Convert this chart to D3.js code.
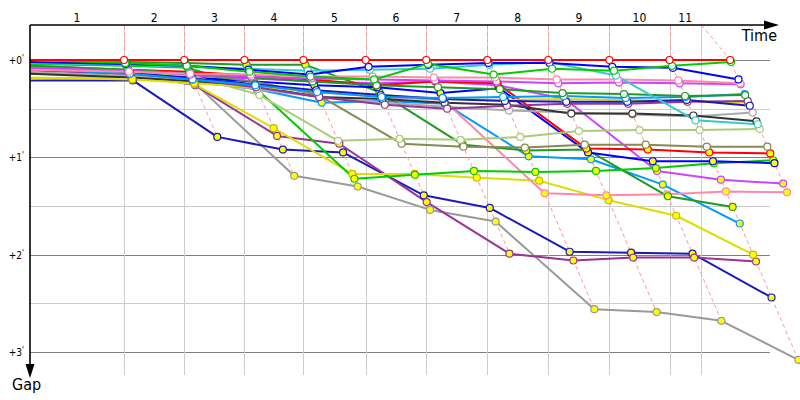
<!DOCTYPE html>
<html>
<head>
<meta charset="utf-8">
<script src="https://cdn.jsdelivr.net/npm/d3@7"></script>
<style>
  body { margin: 0; background: #fff; }
  svg { display: block; font-family: "DejaVu Sans Condensed", "DejaVu Sans", sans-serif; }
</style>
</head>
<body>
<svg id="chart" width="800" height="400"></svg>
<script>
// leader time (minutes) at the start and at the end of each lap
const lapTimes = [0, 2.25, 3.69, 5.13, 6.54, 8.03, 9.48, 10.94, 12.40, 13.86, 15.30, 16.75];
// vertical grid ticks on the time axis
const gridTimes = [2.25, 3.69, 5.13, 6.54, 8.03, 9.48, 10.94, 12.40, 13.86, 15.30, 16.05];
const lapLabels = ["1", "2", "3", "4", "5", "6", "7", "8", "9", "10", "11"];
const gapMajor = [0, 1, 2, 3];
const gapMinor = [0.5, 1.5, 2.5];

// gap to the leader (minutes): start, then end of each lap
const gapsRed      = [0.00, 0.00, 0.00, 0.00, 0.00, 0.00, 0.00, 0.00, 0.00, 0.00, 0.00, 0.00];
const gapsGreen    = [0.00, 0.03, 0.06, 0.12, 0.17, 0.20, 0.04, 0.15, 0.09, 0.11, 0.06, 0.02];
const gapsBlue     = [0.02, 0.04, 0.06, 0.10, 0.15, 0.07, 0.05, 0.03, 0.03, 0.07, 0.08, 0.20];
const gapsCyan     = [0.03, 0.05, 0.07, 0.09, 0.11, 0.10, 0.09, 0.05, 0.02, 0.16, 0.62, 0.66];
const gapsPink     = [0.10, 0.12, 0.14, 0.15, 0.17, 0.17, 0.18, 0.18, 0.20, 0.20, 0.21, 0.24];
const gapsMagenta  = [0.08, 0.11, 0.15, 0.17, 0.19, 0.20, 0.21, 0.22, 0.24, 0.23, 0.24, 0.25];
const gapsDkGreen  = [0.06, 0.10, 0.14, 0.18, 0.22, 0.26, 0.28, 0.30, 0.34, 0.35, 0.37, 0.36];
const gapsSky      = [0.09, 0.14, 0.20, 0.26, 0.33, 0.38, 0.39, 0.38, 0.37, 0.39, 0.38, 0.35];
const gapsNavy     = [0.08, 0.13, 0.19, 0.25, 0.31, 0.36, 0.40, 0.42, 0.43, 0.43, 0.41, 0.47];
const gapsPurple   = [0.10, 0.14, 0.20, 0.28, 0.38, 0.46, 0.50, 0.47, 0.45, 0.45, 0.43, 0.42];
const gapsYellow   = [0.18, 0.20, 0.24, 0.28, 0.32, 0.36, 0.40, 0.41, 0.40, 0.41, 0.42, 0.44];
const gapsBlack    = [0.14, 0.18, 0.22, 0.27, 0.38, 0.40, 0.44, 0.46, 0.55, 0.55, 0.57, 0.63];
const gapsGrey     = [0.12, 0.16, 0.22, 0.30, 0.38, 0.44, 0.48, 0.52, 0.54, 0.56, 0.58, 0.54];
const gapsLtGreen  = [0.08, 0.12, 0.16, 0.36, 0.83, 0.81, 0.82, 0.79, 0.73, 0.72, 0.72, 0.71];
const gapsOlive    = [0.06, 0.10, 0.14, 0.22, 0.36, 0.86, 0.89, 0.90, 0.87, 0.87, 0.89, 0.89];
// second drivers (yellow markers)
const gapsRed2     = [0.12, 0.10, 0.12, 0.16, 0.20, 0.26, 0.22, 0.24, 0.91, 0.92, 0.95, 0.96];
const gapsGreen2   = [0.04, 0.06, 0.08, 0.30, 1.22, 1.18, 1.14, 1.15, 1.14, 1.11, 1.06, 1.03];
const gapsDkGreen2 = [0.03, 0.02, 0.03, 0.05, 0.05, 0.33, 0.87, 0.93, 0.92, 1.40, 1.51];
const gapsBlue2    = [0.10, 0.14, 0.18, 0.22, 0.26, 0.28, 0.34, 0.29, 0.95, 1.04, 1.04, 1.06];
const gapsMagenta2 = [0.10, 0.13, 0.16, 0.19, 0.22, 0.24, 0.22, 0.26, 0.40, 1.14, 1.23, 1.27];
const gapsPink2    = [0.14, 0.16, 0.20, 0.26, 0.33, 0.38, 0.41, 1.37, 1.39, 1.38, 1.35, 1.36];
const gapsSky2     = [0.12, 0.16, 0.22, 0.30, 0.44, 0.42, 0.45, 0.99, 1.02, 1.28, 1.68];
const gapsYellow2  = [0.19, 0.17, 0.25, 0.70, 1.17, 1.17, 1.21, 1.24, 1.44, 1.60, 2.00];
const gapsPurple2  = [0.12, 0.14, 0.26, 0.78, 0.86, 1.46, 1.99, 2.06, 2.03, 2.03, 2.07];
const gapsNavy2    = [0.21, 0.21, 0.79, 0.92, 0.95, 1.39, 1.52, 1.97, 1.98, 1.99, 2.44];
const gapsGrey2    = [0.14, 0.16, 0.23, 1.19, 1.30, 1.54, 1.66, 2.56, 2.59, 2.68, 3.08];

const series = [
  {color: "#999999", fill: "#ffff00", gaps: gapsGrey2},
  {color: "#1a1ab8", fill: "#ffff00", gaps: gapsNavy2},
  {color: "#993399", fill: "#ffff00", gaps: gapsPurple2},
  {color: "#dddd00", fill: "#ffff00", gaps: gapsYellow2},
  {color: "#0099ff", fill: "#ffff00", gaps: gapsSky2},
  {color: "#ff88aa", fill: "#ffff00", gaps: gapsPink2},
  {color: "#cc44ff", fill: "#ffff00", gaps: gapsMagenta2},
  {color: "#229922", fill: "#ffff00", gaps: gapsDkGreen2},
  {color: "#00cc00", fill: "#ffff00", gaps: gapsGreen2},
  {color: "#0000ff", fill: "#ffff00", gaps: gapsBlue2},
  {color: "#ff0000", fill: "#ffff00", gaps: gapsRed2},
  {color: "#888855", fill: "#ffffff", gaps: gapsOlive},
  {color: "#aacc77", fill: "#ffffff", gaps: gapsLtGreen},
  {color: "#aaaaaa", fill: "#ffffff", gaps: gapsGrey},
  {color: "#333333", fill: "#ffffff", gaps: gapsBlack},
  {color: "#dddd00", fill: "#ffff00", gaps: gapsYellow},
  {color: "#993399", fill: "#ffffff", gaps: gapsPurple},
  {color: "#1a1ab8", fill: "#ffffff", gaps: gapsNavy},
  {color: "#0099ff", fill: "#ffffff", gaps: gapsSky},
  {color: "#229922", fill: "#ffffff", gaps: gapsDkGreen},
  {color: "#cc44ff", fill: "#ffffff", gaps: gapsMagenta},
  {color: "#ff88aa", fill: "#ffffff", gaps: gapsPink},
  {color: "#33cccc", fill: "#ffffff", gaps: gapsCyan},
  {color: "#0000ff", fill: "#ffffff", gaps: gapsBlue},
  {color: "#00cc00", fill: "#ffffff", gaps: gapsGreen},
  {color: "#ff0000", fill: "#ffffff", gaps: gapsRed}
];

const svg = d3.select("#chart");
const x = d3.scaleLinear().domain([0, 18]).range([30, 782.4]);
const y = d3.scaleLinear().domain([0, 3]).range([60, 352]);
const axisTop = 25, axisLeft = 30;
const crisp = v => Math.round(v) + 0.5;

// point of a driver at lap k: time of the leader + own gap
const pos = (g, k) => [k === 0 ? x(lapTimes[0]) : x(lapTimes[k] + g), y(g)];

// horizontal grid
const grid = svg.append("g");
gapMinor.concat(gapMajor).forEach(g => {
  grid.append("line")
    .attr("x1", axisLeft).attr("x2", x(17.7))
    .attr("y1", crisp(y(g))).attr("y2", crisp(y(g)))
    .attr("stroke", gapMajor.includes(g) ? "#808080" : "#cccccc");
});
// vertical grid
gridTimes.forEach(t => {
  grid.append("line")
    .attr("x1", crisp(x(t))).attr("x2", crisp(x(t)))
    .attr("y1", axisTop).attr("y2", 375)
    .attr("stroke", "#cccccc");
});

// lap labels between the grid ticks
const bounds = [0].concat(gridTimes);
svg.append("g").selectAll("text")
  .data(lapLabels)
  .enter().append("text")
  .attr("x", (d, i) => x((bounds[i] + bounds[i + 1]) / 2))
  .attr("y", 22)
  .attr("text-anchor", "middle")
  .attr("font-size", 12)
  .text(d => d);

// gap labels
const yl = svg.append("g");
gapMajor.forEach(g => {
  yl.append("text")
    .attr("x", 22).attr("y", y(g) + 4)
    .attr("text-anchor", "end")
    .attr("font-size", 10)
    .text("+" + g);
  yl.append("text")
    .attr("x", 22).attr("y", y(g) + 1)
    .attr("font-size", 8)
    .text("'");
});

// dashed lap lines: from the time tick through every driver's point of that lap
const line = d3.line();
const lapGroup = svg.append("g");
for (let k = 1; k < lapTimes.length; k++) {
  const pts = series.filter(s => s.gaps[k] !== undefined)
    .map(s => s.gaps[k]).sort((a, b) => a - b)
    .map(g => pos(g, k));
  const tx = crisp(x(gridTimes[k - 1]));
  if (k < lapTimes.length - 1) pts[0][0] = tx;
  pts.unshift([tx, axisTop]);
  lapGroup.append("path")
    .attr("d", line(pts))
    .attr("fill", "none")
    .attr("stroke", "#ff9999")
    .attr("stroke-width", 1)
    .attr("stroke-dasharray", "4,3");
}

// driver lines
const lines = svg.append("g");
series.forEach(s => {
  lines.append("path")
    .attr("d", line(s.gaps.map((g, k) => pos(g, k))))
    .attr("fill", "none")
    .attr("stroke", s.color)
    .attr("stroke-width", 2)
    .attr("stroke-linejoin", "round");
});

// markers at lap ends
const marks = svg.append("g");
series.forEach(s => {
  marks.selectAll(null)
    .data(s.gaps.slice(1))
    .enter().append("circle")
    .attr("cx", (g, i) => pos(g, i + 1)[0])
    .attr("cy", (g, i) => pos(g, i + 1)[1])
    .attr("r", 3.5)
    .attr("fill", s.fill)
    .attr("stroke", s.color === "#dddd00" ? "#bbbb00" : s.color)
    .attr("stroke-width", 1.2);
});

// axes with arrows
const ax = svg.append("g");
ax.append("line").attr("x1", axisLeft).attr("x2", 766).attr("y1", axisTop).attr("y2", axisTop)
  .attr("stroke", "#000").attr("stroke-width", 1.6);
ax.append("path").attr("d", "M764,20.5L779,25L764,29.5Z").attr("fill", "#000");
ax.append("line").attr("x1", axisLeft).attr("x2", axisLeft).attr("y1", axisTop).attr("y2", 366)
  .attr("stroke", "#000").attr("stroke-width", 1.6);
ax.append("path").attr("d", "M25.5,364L30,378L34.5,364Z").attr("fill", "#000");
ax.append("text").attr("x", 777).attr("y", 41).attr("text-anchor", "end")
  .attr("font-size", 16).text("Time");
ax.append("text").attr("x", 12).attr("y", 390)
  .attr("font-size", 16).text("Gap");
</script>
</body>
</html>
